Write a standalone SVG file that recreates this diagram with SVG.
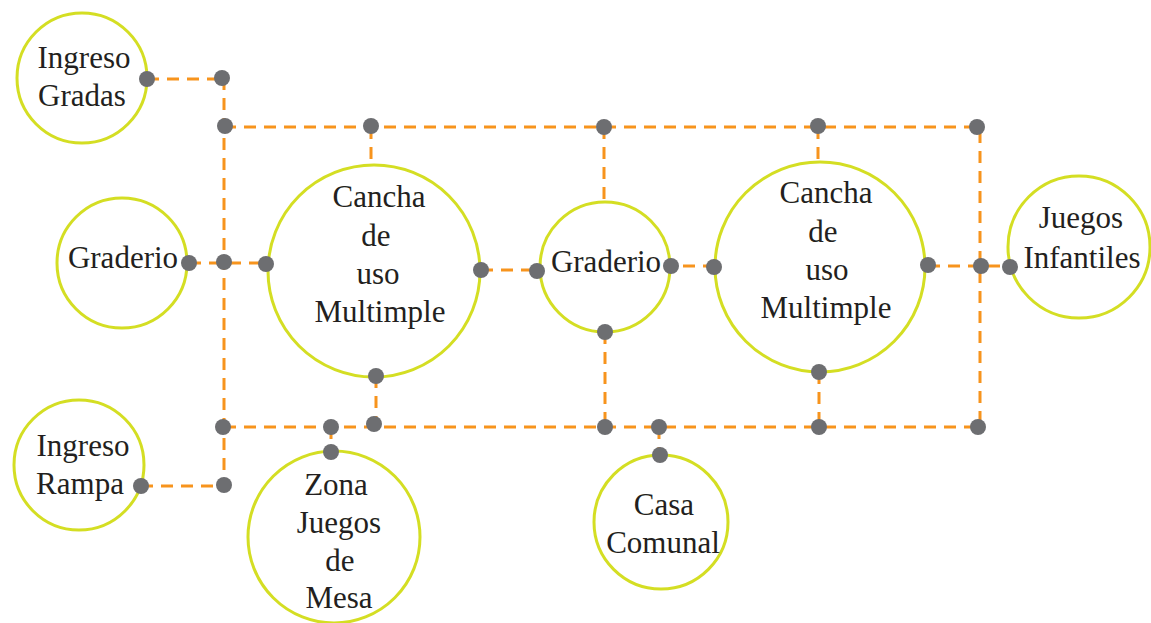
<svg xmlns="http://www.w3.org/2000/svg" width="1151" height="623" viewBox="0 0 1151 623">
<style>
.n{fill:#fff;stroke:#D4DE23;stroke-width:3}
.t{font-size:31px;fill:#231F20;text-anchor:middle}
.c{fill:none;stroke:#F7941D;stroke-width:3;stroke-dasharray:12 8}
.d{fill:#6D6E71}
</style>
<rect width="1151" height="623" fill="#fff"/>
<g id="connectors">
<path class="c" d="M147 79H222M224 78V486M224 127H980V427M224 427H980"/>
<path class="c" d="M371 127V165M604 127V202M818 127V161"/>
<path class="c" d="M189 263H266M481 270H537M663 266H714M928 266H1010"/>
<path class="c" d="M376 376V427M605 332V427M819 372V427M331 427V452M659 427V455M141 486H224"/>
</g>
<g font-family="Liberation Serif">
<g id="n-ingreso-gradas"><circle class="n" cx="82" cy="78" r="65"/><text class="t" x="84" y="68">Ingreso</text><text class="t" x="82" y="106">Gradas</text></g>
<g id="n-graderio-1"><circle class="n" cx="122" cy="263" r="65"/><text class="t" x="123" y="268">Graderio</text></g>
<g id="n-cancha-1"><circle class="n" cx="374" cy="271" r="106"/><text class="t" x="379" y="207">Cancha</text><text class="t" x="376" y="246">de</text><text class="t" x="378" y="284">uso</text><text class="t" x="380" y="322">Multimple</text></g>
<g id="n-graderio-2"><circle class="n" cx="605" cy="267" r="65"/><text class="t" x="606" y="272">Graderio</text></g>
<g id="n-cancha-2"><circle class="n" cx="820" cy="267" r="105"/><text class="t" x="826" y="203">Cancha</text><text class="t" x="823" y="242">de</text><text class="t" x="827" y="280">uso</text><text class="t" x="826" y="318">Multimple</text></g>
<g id="n-juegos-infantiles"><circle class="n" cx="1079" cy="247" r="71"/><text class="t" x="1081" y="228">Juegos</text><text class="t" x="1082" y="268">Infantiles</text></g>
<g id="n-ingreso-rampa"><circle class="n" cx="79" cy="465" r="65"/><text class="t" x="83" y="456">Ingreso</text><text class="t" x="80" y="494">Rampa</text></g>
<g id="n-zona-juegos"><circle class="n" cx="334" cy="537" r="86"/><text class="t" x="336" y="495">Zona</text><text class="t" x="339" y="533">Juegos</text><text class="t" x="340" y="571">de</text><text class="t" x="339" y="608">Mesa</text></g>
<g id="n-casa-comunal"><circle class="n" cx="661" cy="522" r="67"/><text class="t" x="664" y="515">Casa</text><text class="t" x="663" y="553">Comunal</text></g>
</g>
<g id="dots">
<circle class="d" cx="147" cy="79" r="8"/><circle class="d" cx="222" cy="78" r="8"/>
<circle class="d" cx="225" cy="126" r="8"/><circle class="d" cx="371" cy="126" r="8"/><circle class="d" cx="604" cy="127" r="8"/><circle class="d" cx="818" cy="126" r="8"/><circle class="d" cx="977" cy="127" r="8"/>
<circle class="d" cx="189" cy="263" r="8"/><circle class="d" cx="224" cy="262" r="8"/><circle class="d" cx="266" cy="264" r="8"/>
<circle class="d" cx="481" cy="270" r="8"/><circle class="d" cx="537" cy="271" r="8"/><circle class="d" cx="671" cy="266" r="8"/><circle class="d" cx="714" cy="267" r="8"/>
<circle class="d" cx="928" cy="265" r="8"/><circle class="d" cx="981" cy="266" r="8"/><circle class="d" cx="1010" cy="267" r="8"/>
<circle class="d" cx="605" cy="332" r="8"/><circle class="d" cx="376" cy="376" r="8"/><circle class="d" cx="819" cy="372" r="8"/>
<circle class="d" cx="223" cy="427" r="8"/><circle class="d" cx="331" cy="427" r="8"/><circle class="d" cx="374" cy="424" r="8"/><circle class="d" cx="605" cy="427" r="8"/><circle class="d" cx="659" cy="427" r="8"/><circle class="d" cx="819" cy="427" r="8"/><circle class="d" cx="978" cy="427" r="8"/>
<circle class="d" cx="331" cy="452" r="8"/><circle class="d" cx="660" cy="455" r="8"/>
<circle class="d" cx="141" cy="486" r="8"/><circle class="d" cx="224" cy="485" r="8"/>
</g>
</svg>
